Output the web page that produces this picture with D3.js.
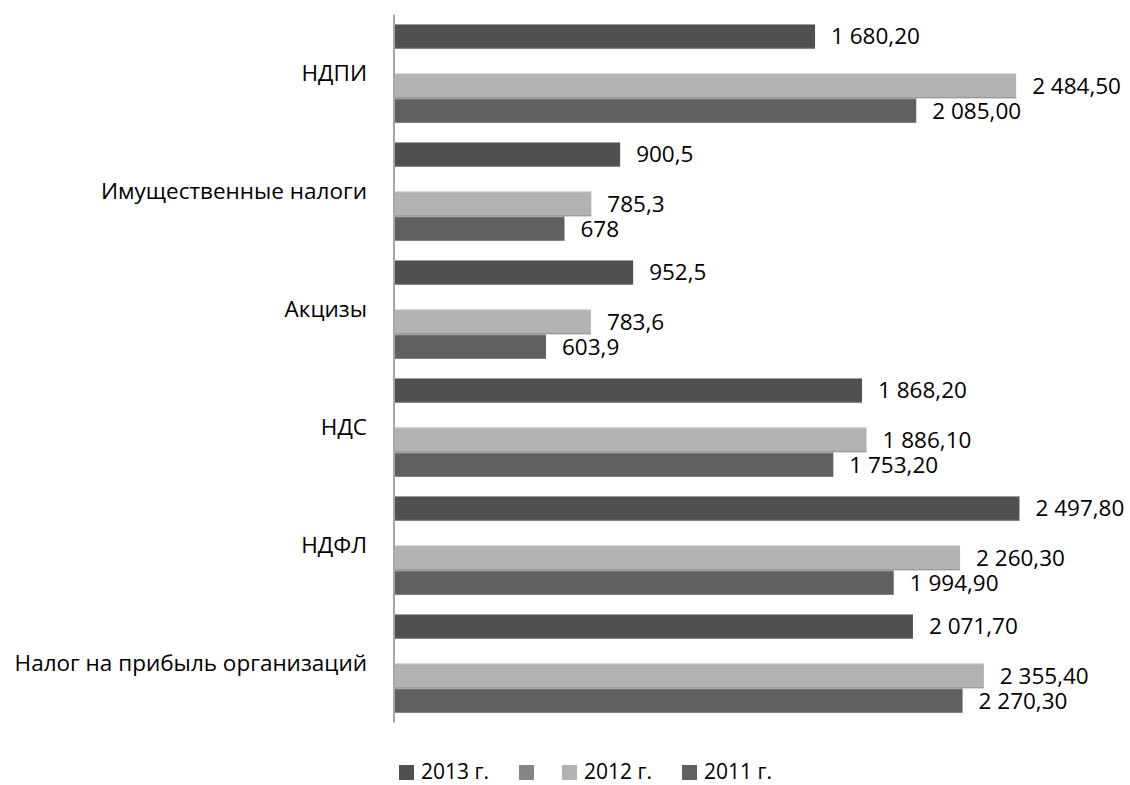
<!DOCTYPE html>
<html><head><meta charset="utf-8">
<script src="https://cdn.jsdelivr.net/npm/d3@7"></script>
<style>body{margin:0;background:#fff}svg{display:block}text{font-family:"Open Sans",sans-serif;fill:#000}</style>
</head><body><svg id="c" width="1130" height="785"></svg>
<script>
const categories = ["НДПИ","Имущественные налоги","Акцизы","НДС","НДФЛ","Налог на прибыль организаций"];
const seriesNames = ["2013 г.","","2012 г.","2011 г."];
const v2013 = [1680.2, 900.5, 952.5, 1868.2, 2497.8, 2071.7];
const vBlank = [null, null, null, null, null, null];
const v2012 = [2484.5, 785.3, 783.6, 1886.1, 2260.3, 2355.4];
const v2011 = [2085.0, 678, 603.9, 1753.2, 1994.9, 2270.3];
const l2013 = ["1 680,20","900,5","952,5","1 868,20","2 497,80","2 071,70"];
const l2012 = ["2 484,50","785,3","783,6","1 886,10","2 260,30","2 355,40"];
const l2011 = ["2 085,00","678","603,9","1 753,20","1 994,90","2 270,30"];
const colors = ["#505050","#868686","#b2b2b2","#606060"];

const values = [v2013, vBlank, v2012, v2011];
const labels = [l2013, null, l2012, l2011];

const svg = d3.select("#c");
const x = d3.scaleLinear().domain([0,3000]).range([395,1145]);
const y0 = d3.scaleBand().domain(categories).range([14.5,722.5]).paddingInner(0).paddingOuter(0);
const y1 = d3.scaleBand().domain(d3.range(4)).range([9.5, y0.bandwidth()-9.5]);

const g = svg.append("g");
categories.forEach((c,ci)=>{
  const gc = g.append("g").attr("transform",`translate(0,${y0(c)})`);
  values.forEach((arr,si)=>{
    const v = arr[ci];
    if (v==null) return;
    const yy = y1(si), h = y1.bandwidth();
    gc.append("rect").attr("x",x(0)).attr("y",yy).attr("width",x(v)-x(0)).attr("height",h).attr("fill",colors[si]);
    gc.append("rect").attr("x",x(0)).attr("y",yy).attr("width",x(v)-x(0)).attr("height",1).attr("fill","#d4d4d4").attr("opacity",0.6);
    gc.append("rect").attr("x",x(0)).attr("y",yy+h-1).attr("width",x(v)-x(0)).attr("height",1).attr("fill","#8c8c8c").attr("opacity",0.8);
    gc.append("text").attr("x",x(v)+16).attr("y",yy+h/2).attr("dy","0.35em")
      .style("font-size","22.5px").text(labels[si][ci]);
  });
  gc.append("text").attr("x",367).attr("y",y0.bandwidth()/2).attr("dy","0.35em")
    .attr("text-anchor","end").style("font-size","22.5px").text(c);
});

// axis line
svg.append("line").attr("x1",x(0)-1).attr("x2",x(0)-1).attr("y1",y0.range()[0]).attr("y2",y0.range()[1])
  .attr("stroke","#a6a6a6").attr("stroke-width",2);

// legend
const legX = [399, 519, 562, 682];
const leg = svg.append("g");
seriesNames.forEach((n,i)=>{
  leg.append("rect").attr("x",legX[i]).attr("y",765).attr("width",15).attr("height",15).attr("fill",colors[i]);
  if (n) leg.append("text").attr("x",legX[i]+22).attr("y",772).attr("dy","0.35em").style("font-size","21px").text(n);
});
</script></body></html>
